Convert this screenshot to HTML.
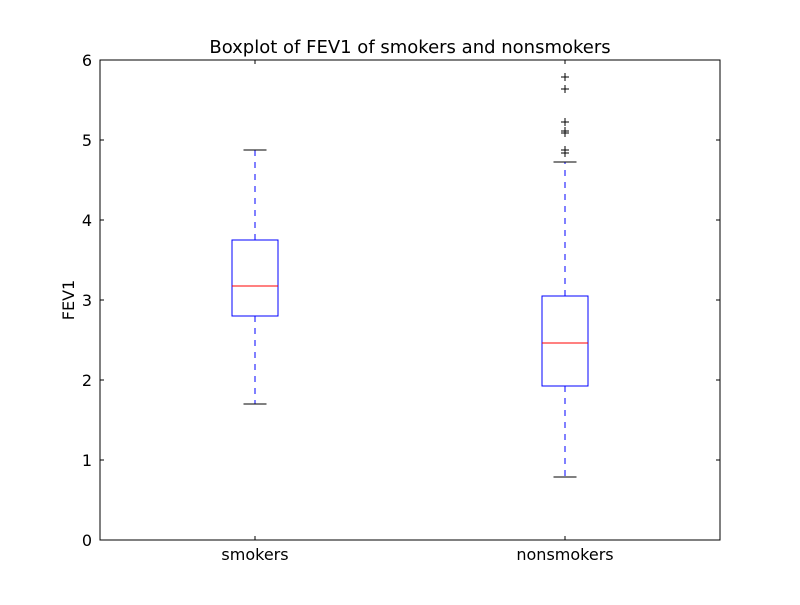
<!DOCTYPE html>
<html><head><meta charset="utf-8"><style>body{margin:0;background:#fff}svg text{font-family:"DejaVu Sans","Liberation Sans",sans-serif}</style></head>
<body>
<svg id="chart" width="800" height="600">
<rect width="800" height="600" fill="#fff"/>
<g id="plot" shape-rendering="crispEdges"></g>
<text x="410" y="53" text-anchor="middle" font-size="18">Boxplot of FEV1 of smokers and nonsmokers</text>
<text transform="translate(74,300) rotate(-90)" text-anchor="middle" font-size="16">FEV1</text>
</svg>
<script>
const categories = ["smokers", "nonsmokers"];
const whiskerLow = [1.7, 0.79];
const q1 = [2.8, 1.925];
const medians = [3.175, 2.46];
const q3 = [3.75, 3.05];
const whiskerHigh = [4.875, 4.725];
const fliers = [[], [5.79, 5.64, 5.225, 5.11, 5.09, 4.875, 4.84]];
const yTicks = [0, 1, 2, 3, 4, 5, 6];

const L=100,R=720,T=60,B=540,ymin=0,ymax=6;
const y=v=>B-(v-ymin)/(ymax-ymin)*(B-T);
const x=i=>L+(R-L)*(i+0.5)/categories.length;
const NS="http://www.w3.org/2000/svg";
const g=document.getElementById('plot');
function mk(tag,attrs,name){const e=document.createElementNS(NS,tag);for(const k in attrs)e.setAttribute(k,attrs[k]);


g.appendChild(e);return e;}
const bw=46;
categories.forEach((c,i)=>{
  const cx=x(i);
  mk('line',{x1:cx,x2:cx,y1:y(q3[i]),y2:y(whiskerHigh[i]),stroke:'#0000ff','stroke-dasharray':'6,6'},'upper-whisker-'+c);
  mk('line',{x1:cx,x2:cx,y1:y(q1[i]),y2:y(whiskerLow[i]),stroke:'#0000ff','stroke-dasharray':'6,6'},'lower-whisker-'+c);
  mk('line',{x1:cx-bw/4,x2:cx+bw/4,y1:y(whiskerHigh[i]),y2:y(whiskerHigh[i]),stroke:'#000'},'upper-cap-'+c);
  mk('line',{x1:cx-bw/4,x2:cx+bw/4,y1:y(whiskerLow[i]),y2:y(whiskerLow[i]),stroke:'#000'},'lower-cap-'+c);
  mk('rect',{x:cx-bw/2,y:y(q3[i]),width:bw,height:y(q1[i])-y(q3[i]),fill:'none',stroke:'#0000ff'},'box-'+c);
  mk('line',{x1:cx-bw/2,x2:cx+bw/2,y1:y(medians[i]),y2:y(medians[i]),stroke:'#ff0000'},'median-'+c);
  fliers[i].forEach(v=>{
    mk('path',{d:`M${cx-4},${y(v)}h8M${cx},${y(v)-4}v8`,stroke:'#000'},'flier-'+c);
  });
  mk('line',{x1:cx,x2:cx,y1:B,y2:B-4,stroke:'#000'},'x-tick');
  mk('line',{x1:cx,x2:cx,y1:T,y2:T+4,stroke:'#000'},'x-tick-top');
  const t=mk('text',{x:cx,y:B+20,'text-anchor':'middle','font-size':16},'x-tick-label');t.textContent=c;
});
yTicks.forEach(v=>{
  mk('line',{x1:L,x2:L+4,y1:y(v),y2:y(v),stroke:'#000'},'y-tick');
  mk('line',{x1:R,x2:R-4,y1:y(v),y2:y(v),stroke:'#000'},'y-tick-right');
  const t=mk('text',{x:L-8,y:y(v)+6,'text-anchor':'end','font-size':16},'y-tick-label');t.textContent=v;
});
mk('rect',{x:L,y:T,width:R-L,height:B-T,fill:'none',stroke:'#000'},'plot-frame');
</script>
</body></html>
